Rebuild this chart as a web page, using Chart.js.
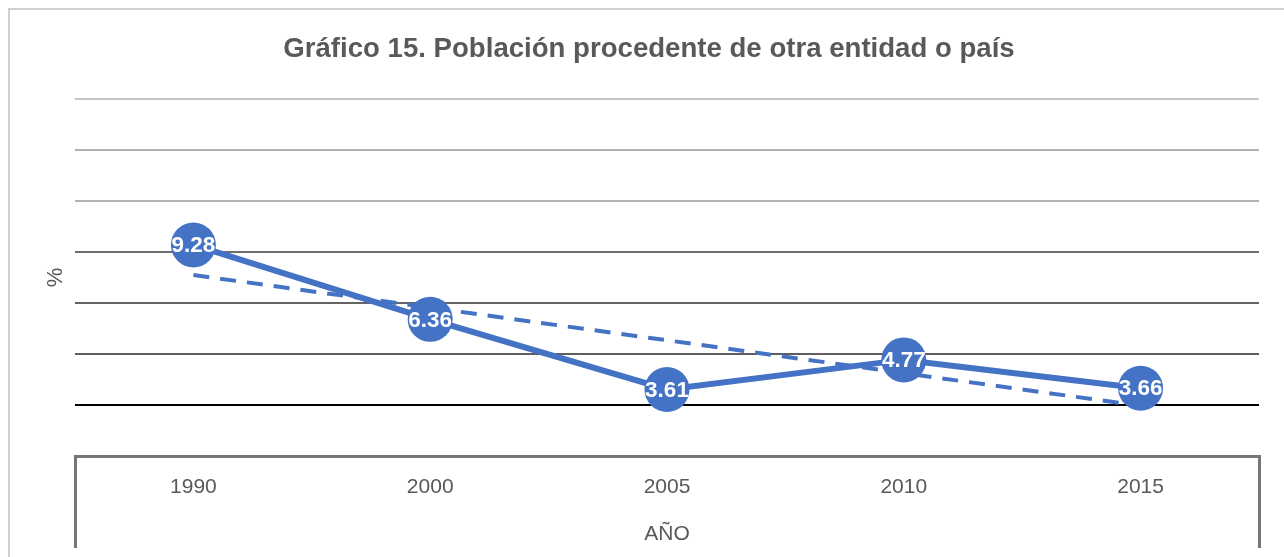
<!DOCTYPE html>
<html>
<head>
<meta charset="utf-8">
<script src="https://cdn.jsdelivr.net/npm/chart.js@4.4.0/dist/chart.umd.min.js"></script>
<style>
  html, body { margin: 0; padding: 0; background: #ffffff; }
  #wrap { width: 1284px; height: 557px; position: relative; }
</style>
</head>
<body>
<div id="wrap"><canvas id="c" width="1284" height="557"></canvas></div>
<script>
// ---- data ----
const years = ['1990', '2000', '2005', '2010', '2015'];
const values = [9.28, 6.36, 3.61, 4.77, 3.66];
const trendValues = [8.10, 6.82, 5.54, 4.25, 2.97];
const yTickValues = [1, 3, 5, 7, 9, 11, 13, 15];

const titleText = 'Gráfico 15. Población procedente de otra entidad o país';
const xTitle = 'AÑO';
const yTitle = '%';

// ---- styles ----
const BLUE = '#4472C4';
const TEXT_GRAY = '#595959';
const gridColorByValue = { 15: '#c6c6c6', 13: '#b2b2b2', 11: '#b2b2b2', 9: '#6e6e6e', 7: '#646464', 5: '#5e5e5e', 3: '#000000', 1: 'rgba(0,0,0,0)' };

function hasFont(name) {
  const c = document.createElement('canvas').getContext('2d');
  const s = '1990 AÑO mmmWWiil%';
  c.font = '40px monospace';
  const a = c.measureText(s).width;
  c.font = '40px "' + name + '", monospace';
  const b = c.measureText(s).width;
  return Math.abs(a - b) > 0.5;
}
const narrow = hasFont('Liberation Sans Narrow');
const axisFont = narrow
  ? { family: '"Liberation Sans Narrow", "Liberation Sans", Arial, sans-serif', size: 25 }
  : { family: '"Liberation Sans", Arial, sans-serif', size: 21 };
const axisLH = axisFont.size * 1.2;
const PAD_LEFT = 14;

const frame = {
  id: 'frame',
  beforeDraw(chart) {
    const ctx = chart.ctx;
    ctx.save();
    ctx.fillStyle = '#ffffff';
    ctx.fillRect(0, 0, chart.width, chart.height);
    ctx.strokeStyle = '#d0d0d0';
    ctx.lineWidth = 2;
    ctx.strokeRect(9, 9, chart.width + 20, chart.height + 20);
    ctx.restore();
  }
};

const pointLabels = {
  id: 'pointLabels',
  afterDatasetsDraw(chart) {
    const ctx = chart.ctx;
    const meta = chart.getDatasetMeta(0);
    ctx.save();
    ctx.font = 'bold 22.5px "Liberation Sans", Arial, sans-serif';
    ctx.fillStyle = '#ffffff';
    ctx.textAlign = 'center';
    ctx.textBaseline = 'middle';
    meta.data.forEach((pt, i) => {
      ctx.fillText(values[i].toFixed(2), pt.x, pt.y + 1);
    });
    ctx.restore();
  }
};

new Chart(document.getElementById('c'), {
  type: 'line',
  data: {
    labels: years,
    datasets: [
      {
        label: 'Población',
        data: values,
        borderColor: BLUE,
        backgroundColor: BLUE,
        borderWidth: 6,
        pointRadius: 22.5,
        pointHoverRadius: 22.5,
        pointBackgroundColor: BLUE,
        pointBorderWidth: 0,
        tension: 0,
        fill: false
      },
      {
        label: 'Tendencia',
        data: trendValues,
        borderColor: BLUE,
        borderWidth: 4,
        borderDash: [16, 11],
        pointRadius: 0,
        pointHoverRadius: 0,
        tension: 0,
        fill: false
      }
    ]
  },
  options: {
    responsive: false,
    animation: false,
    devicePixelRatio: 1,
    layout: { padding: { left: PAD_LEFT, right: 0, top: 0, bottom: 0 } },
    plugins: {
      legend: { display: false },
      tooltip: { enabled: false },
      title: {
        display: true,
        text: titleText,
        color: TEXT_GRAY,
        font: { family: '"Liberation Sans", Arial, sans-serif', size: 27.6, weight: 'bold', lineHeight: 1.2 },
        padding: { top: 33, bottom: 33 }
      }
    },
    scales: {
      x: {
        type: 'category',
        offset: true,
        afterFit(scale) { scale.height = 101; },
        border: { display: true, color: '#767676', width: 3 },
        grid: {
          display: true,
          offset: true,
          drawOnChartArea: false,
          drawTicks: true,
          tickLength: 92,
          lineWidth: 3,
          color: (c) => (c.type === 'scale' || c.index === 0) ? '#767676' : 'rgba(0,0,0,0)'
        },
        ticks: {
          color: TEXT_GRAY,
          font: axisFont,
          padding: 487 - 456 - 92 - axisLH / 2,
          maxRotation: 0,
          autoSkip: false
        },
        title: {
          display: true,
          text: xTitle,
          color: TEXT_GRAY,
          font: axisFont,
          padding: { top: 0, bottom: 10 }
        }
      },
      y: {
        min: 1,
        max: 15,
        afterFit(scale) { scale.width = 75 - PAD_LEFT; },
        afterBuildTicks(scale) { scale.ticks = yTickValues.map(v => ({ value: v })); },
        border: { display: false },
        grid: {
          drawTicks: false,
          lineWidth: 2,
          color: (c) => (c.tick && gridColorByValue[c.tick.value]) || 'rgba(0,0,0,0)'
        },
        ticks: { display: false },
        title: {
          display: true,
          text: yTitle,
          color: TEXT_GRAY,
          font: { family: axisFont.family, size: axisFont.size + 1 },
          padding: { top: 56 - PAD_LEFT - (axisFont.size + 1) * 0.6, bottom: 0 }
        }
      },
      yRight: {
        position: 'right',
        min: 1,
        max: 15,
        afterFit(scale) { scale.width = 25; },
        border: { display: false },
        grid: { display: false, drawOnChartArea: false },
        ticks: { display: false }
      }
    }
  },
  plugins: [frame, pointLabels]
});
</script>
</body>
</html>
